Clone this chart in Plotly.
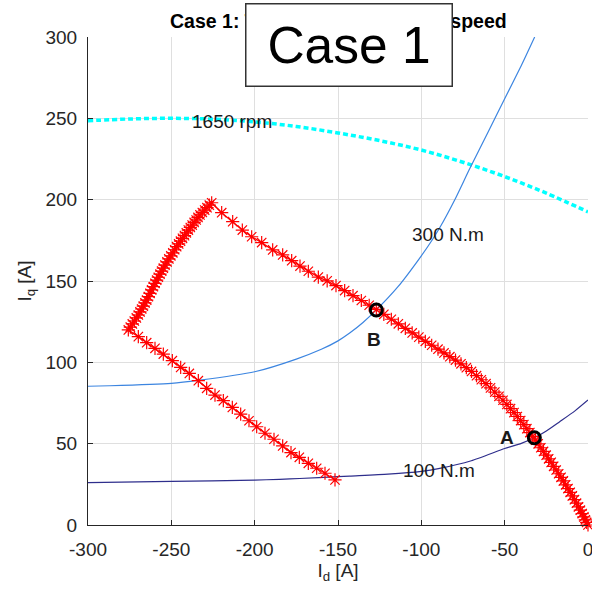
import plotly.graph_objects as go

# ---------------- data ----------------
# 1650 rpm voltage-limit curve
id_1650 = [-300, -275, -250, -225, -200, -175, -150, -125, -100, -75, -50, -25, 0]
iq_1650 = [248.5, 249.6, 250.0, 249.5, 247.8, 245.0, 241.0, 236.3, 230.5, 223.0, 214.2, 204.0, 192.5]

# 300 N.m constant-torque curve
id_300 = [-300, -287, -250, -234, -200, -175, -160, -150, -143, -135, -127, -114, -100, -93, -88.8, -80, -71, -60, -50, -40, -32]
iq_300 = [85.3, 85.6, 87.1, 88.9, 94.2, 102.0, 108.0, 113.2, 118.0, 124.5, 132.2, 146.5, 165.5, 176.0, 183.0, 199.8, 219.0, 241.5, 262.0, 282.5, 300.0]

# 100 N.m constant-torque curve
id_100 = [-300, -250, -200, -185, -173, -150, -143, -120, -100, -89, -70, -50, -40, -32.2, -25, -17, -8, 0]
iq_100 = [26.0, 26.8, 27.6, 28.1, 28.6, 29.7, 30.1, 31.3, 33.0, 34.8, 39.5, 47.0, 50.2, 53.6, 57.8, 63.5, 70.0, 76.8]

# operating trajectory (red asterisks)
id_traj = [0, -0.8, -1.6, -2.5, -3.5, -4.6, -5.7, -6.9, -8.1, -9.4, -10.7, -12.0, -13.4, -14.8,
           -16.2, -17.6, -19.1, -20.6, -22.1, -23.6, -25.1, -26.7, -28.3, -29.9, -31.5, -33.2,
           -34.9, -36.7, -38.5, -40.4, -42.4, -44.4, -46.5, -48.7, -51.0, -53.4, -55.9, -58.5,
           -61.2, -64.0, -66.9, -69.9, -73.0, -76.2, -79.5, -82.9, -86.4, -90.0, -93.8, -97.6,
           -101.5, -105.5, -109.6, -113.8, -118.0, -122.5, -127.0, -131.3, -136.0, -141.0, -146.0,
           -151.2, -156.5, -161.8, -167.8, -172.8, -177.8, -183.2, -189.2, -195.8, -201.8, -207.4,
           -213.2, -219.8, -225.8,
           -227.2, -228.6, -230.0, -231.4, -232.8,
           -234.0, -235.1, -236.3, -237.5, -238.6, -239.8,
           -241.0, -242.1, -243.3, -244.5, -245.6, -246.8,
           -248.0, -249.1, -250.3, -251.5, -252.6, -253.8,
           -254.8, -255.8, -256.8, -257.8, -258.8, -259.8,
           -260.8, -261.8, -262.8, -263.8, -264.8,
           -265.8, -266.8, -267.8, -268.8, -269.8,
           -271.0, -272.2, -273.4, -274.6, -275.8,
           -269.8, -264.8, -259.8, -254.8, -249.4, -244.4, -239.2, -233.8, -228.8, -223.8,
           -218.8, -213.4, -208.4, -203.4, -198.8, -193.8, -188.4, -183.2, -178.2, -173.2,
           -167.8, -162.8, -157.8, -151.8]
iq_traj = [0, 1.6, 3.2, 5.0, 7.0, 9.1, 11.1, 13.4, 15.6, 17.9, 20.1, 22.4, 24.7, 27.1,
           29.3, 31.5, 33.8, 36.1, 38.5, 40.7, 42.9, 45.2, 47.5, 49.9, 52.2, 54.5,
           56.8, 59.2, 61.7, 64.2, 66.7, 69.1, 71.5, 74.1, 76.7, 79.1, 81.7, 84.3,
           86.9, 89.3, 91.8, 94.4, 96.7, 99.1, 101.4, 103.5, 105.8, 108.1, 110.5, 112.9,
           115.5, 118.1, 120.9, 123.7, 126.5, 129.5, 132.5, 135.1, 138.0, 141.0, 144.1,
           147.2, 150.1, 152.4, 156.0, 159.2, 162.5, 166.0, 169.1, 173.6, 177.2, 181.3,
           186.5, 192.0, 198.1,
           196.6, 195.1, 193.6, 192.1, 190.6,
           189.1, 187.5, 186.0, 184.4, 182.9, 181.3,
           179.6, 177.9, 176.2, 174.5, 172.8, 171.1,
           169.2, 167.3, 165.5, 163.6, 161.7, 159.8,
           157.9, 156.1, 154.2, 152.3, 150.5, 148.6,
           146.5, 144.5, 142.4, 140.4, 138.3,
           136.5, 134.6, 132.8, 131.0, 129.1,
           127.3, 125.4, 123.6, 121.7, 119.9,
           115.8, 112.1, 108.6, 105.1, 101.0, 96.9, 93.2, 88.7, 84.0, 79.9,
           76.4, 72.3, 68.2, 64.1, 60.4, 56.4, 52.7, 48.6, 44.5, 41.6,
           37.9, 34.9, 31.8, 27.7]

# highlighted operating points A and B
pt_names = ["A", "B"]
pt_id = [-32.2, -127.0]
pt_iq = [53.6, 132.2]

# axis ticks
x_ticks = [-300, -250, -200, -150, -100, -50, 0]
x_ticktext = ["-300", "-250", "-200", "-150", "-100", "-50", "0"]
y_ticks = [0, 50, 100, 150, 200, 250, 300]
y_ticktext = ["0", "50", "100", "150", "200", "250", "300"]

FONT = "Liberation Sans, Arial, Helvetica, sans-serif"
TXT = "#262626"

fig = go.Figure()

fig.add_trace(go.Scatter(x=id_1650, y=iq_1650, mode="lines",
                         line=dict(color="#00FFFF", width=3.5, dash="5px,3px", shape="spline"),
                         hoverinfo="skip", showlegend=False))
fig.add_trace(go.Scatter(x=id_300, y=iq_300, mode="lines",
                         line=dict(color="#3C85E0", width=1.2, shape="spline", smoothing=0.6),
                         hoverinfo="skip", showlegend=False))
fig.add_trace(go.Scatter(x=id_100, y=iq_100, mode="lines",
                         line=dict(color="#2E2E8C", width=1.2, shape="spline", smoothing=0.6),
                         hoverinfo="skip", showlegend=False))
fig.add_trace(go.Scatter(x=id_traj, y=iq_traj, mode="lines+markers",
                         line=dict(color="#FF0000", width=1.3),
                         marker=dict(symbol="asterisk-open", size=11, color="#FF0000",
                                     line=dict(color="#FF0000", width=1.2)),
                         cliponaxis=False, hoverinfo="skip", showlegend=False))
fig.add_trace(go.Scatter(x=pt_id, y=pt_iq, mode="markers",
                         marker=dict(symbol="circle-open", size=12, color="black",
                                     line=dict(color="black", width=3)),
                         cliponaxis=False, hoverinfo="skip", showlegend=False))

annotations = []
def txt(x, y, s, bold=False, size=19):
    annotations.append(dict(x=x, y=y, xref="x", yref="y", showarrow=False,
                            text=f"<b>{s}</b>" if bold else s,
                            font=dict(family=FONT, size=size, color="#1a1a1a"),
                            xanchor="center", yanchor="middle"))

txt(-213.6, 248.0, "1650 rpm")
txt(-84.3, 178.5, "300 N.m")
txt(-89.4, 33.5, "100 N.m")
txt(-48.8, 53.5, pt_names[0], bold=True)
txt(-128.4, 114.2, pt_names[1], bold=True)

# title (partly hidden by the "Case 1" box)
annotations.append(dict(x=0.5, y=1.033, xref="paper", yref="paper", showarrow=False,
                        text="<b>Case 1: Torque step at steady speed</b>",
                        font=dict(family=FONT, size=19.5, color="black"),
                        xanchor="center", yanchor="middle"))
# "Case 1" label box
annotations.append(dict(x=0.522, y=0.9836, xref="paper", yref="paper", showarrow=False,
                        text="Case 1", font=dict(family=FONT, size=51.5, color="black"),
                        bgcolor="white", bordercolor="#333333", borderwidth=1.5, borderpad=0,
                        width=205, height=81, align="center", valign="middle",
                        xanchor="center", yanchor="middle"))

axis_common = dict(showline=True, linecolor=TXT, linewidth=1, mirror=False,
                   ticks="inside", ticklen=5, tickcolor=TXT, tickwidth=1,
                   showgrid=True, gridcolor="#DFDFDF", gridwidth=1, zeroline=False,
                   automargin=False, ticklabeloverflow="allow",
                   tickfont=dict(family=FONT, size=19, color=TXT))

fig.update_layout(
    width=592, height=594,
    margin=dict(l=88, r=4, t=37, b=69),
    paper_bgcolor="white", plot_bgcolor="white",
    xaxis=dict(range=[-300, 0], tickmode="array", tickvals=x_ticks, ticktext=x_ticktext,
               ticklabelstandoff=7,
               title=dict(text="I<sub>d</sub> [A]", font=dict(family=FONT, size=19, color=TXT), standoff=4),
               **axis_common),
    yaxis=dict(range=[0, 300], tickmode="array", tickvals=y_ticks, ticktext=y_ticktext,
               ticklabelstandoff=6,
               title=dict(text="I<sub>q</sub> [A]", font=dict(family=FONT, size=19, color=TXT), standoff=8),
               **axis_common),
    annotations=annotations,
)

fig.write_html("out.html", config={"displayModeBar": False, "staticPlot": True},
               post_script="document.body.style.margin='0';document.body.style.overflow='hidden';")
